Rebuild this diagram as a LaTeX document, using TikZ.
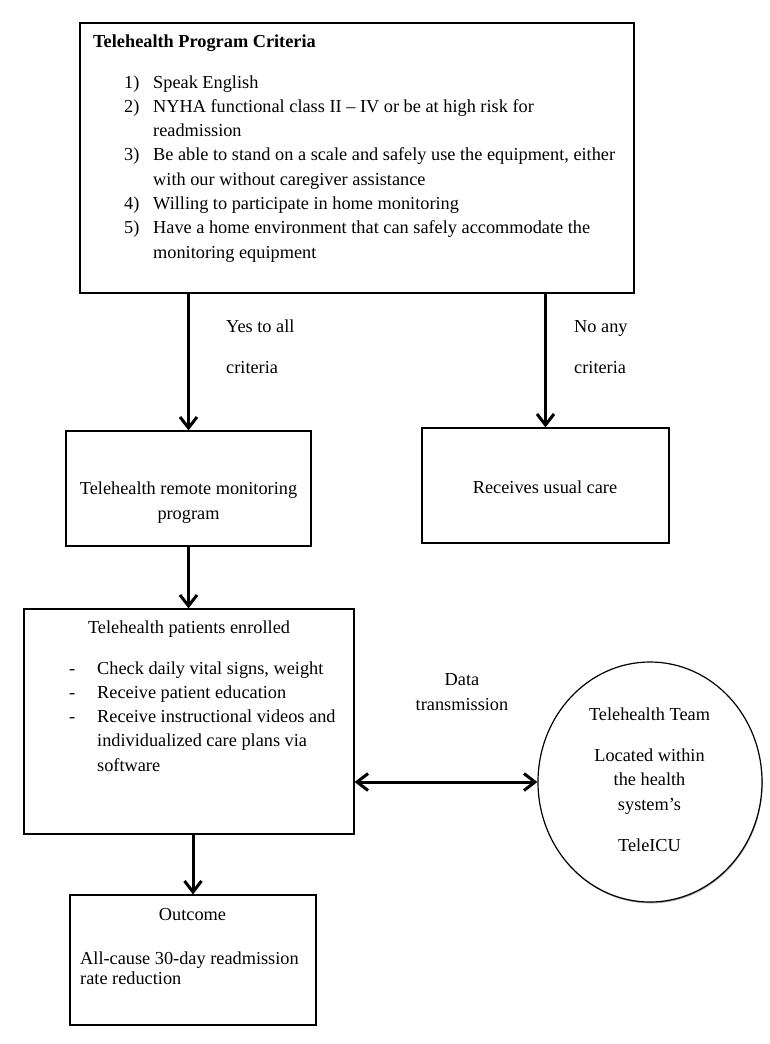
\documentclass[tikz,border=0pt]{standalone}
\usepackage{fontspec}
\setmainfont{Liberation Serif}
\usetikzlibrary{arrows.meta,shadows,shapes.geometric}
\begin{document}
\begin{tikzpicture}[x=1pt,y=-1pt,
  box/.style={draw, line width=1.2pt, fill=white, inner sep=0pt,
    drop shadow={shadow xshift=0.6pt, shadow yshift=-1.4pt, opacity=0.35, fill=black}},
  txt/.style={inner sep=0pt, font=\fontsize{18.3}{24.3}\selectfont},
  arr/.style={line width=3pt, -{Straight Barb[length=11pt 0,width=17pt 0]}},
  dblarr/.style={line width=3pt, {Straight Barb[length=11pt 0,width=17pt 0]}-{Straight Barb[length=11pt 0,width=17pt 0]}}
]
\useasboundingbox[fill=white] (0,0) rectangle (769,1044);

% boxes
\node[box, minimum width=554pt, minimum height=270pt] (crit) at (357,158) {};
\node[box, minimum width=245pt, minimum height=115pt] (remote) at (188.5,488.5) {};
\node[box, minimum width=247pt, minimum height=115pt] (usual) at (545.5,485.5) {};
\node[box, minimum width=330pt, minimum height=225pt] (enrol) at (189,721.5) {};
\node[box, minimum width=246pt, minimum height=130pt] (outcome) at (193,960) {};
\node[box, ellipse, minimum width=224pt, minimum height=240pt] (team) at (650,782) {};

% texts (anchor base = baseline of the last line)
\node[txt, anchor=base west, font=\bfseries\fontsize{18.3}{24.3}\selectfont] (crittitle) at (93,47) {Telehealth Program Criteria};
\node[txt, anchor=base west, align=left] (critlist) at (124,258.1) {%
\makebox[29pt][l]{1)}Speak English\\
\makebox[29pt][l]{2)}NYHA functional class II – IV or be at high risk for\\
\hspace*{29pt}readmission\\
\makebox[29pt][l]{3)}Be able to stand on a scale and safely use the equipment, either\\
\hspace*{29pt}with our without caregiver assistance\\
\makebox[29pt][l]{4)}Willing to participate in home monitoring\\
\makebox[29pt][l]{5)}Have a home environment that can safely accommodate the\\
\hspace*{29pt}monitoring equipment};

\node[txt, anchor=base west, align=left, font=\fontsize{18.3}{41}\selectfont] (yeslbl) at (226,373) {Yes to all\\criteria};
\node[txt, anchor=base west, align=left, font=\fontsize{18.3}{41}\selectfont] (nolbl) at (574,373) {No any\\criteria};

\node[txt, anchor=base, align=center] (remotetxt) at (188.5,519) {Telehealth remote monitoring\\program};
\node[txt, anchor=base] (usualtxt) at (545,493) {Receives usual care};

\node[txt, anchor=base] (enroltitle) at (189,633) {Telehealth patients enrolled};
\node[txt, anchor=base west, align=left] (enrollist) at (69,771.2) {%
\makebox[28pt][l]{-}Check daily vital signs, weight\\
\makebox[28pt][l]{-}Receive patient education\\
\makebox[28pt][l]{-}Receive instructional videos and\\
\hspace*{28pt}individualized care plans via\\
\hspace*{28pt}software};

\node[txt, anchor=base, align=center] (datalbl) at (462,710) {Data\\transmission};

\node[txt, anchor=base] (teamtitle) at (649.5,720) {Telehealth Team};
\node[txt, anchor=base, align=center] (teamloc) at (649.5,810) {Located within\\the health\\system’s};
\node[txt, anchor=base] (teamicu) at (649.5,851) {TeleICU};

\node[txt, anchor=base] (outtitle) at (192.5,920) {Outcome};
\node[txt, anchor=base west, align=left, font=\fontsize{18.3}{20.6}\selectfont] (outtxt) at (80,984.6) {All-cause 30-day readmission\\rate reduction};

% connectors
\draw[arr] (crit.south -| remote.north) -- (remote.north);
\draw[arr] (crit.south -| usual.north) -- (usual.north);
\draw[arr] (remote.south) -- (remote.south |- enrol.north);
\draw[arr] (outcome.north |- enrol.south) -- (outcome.north);
\draw[dblarr] (team.west -| enrol.east) -- (team.west);
\end{tikzpicture}
\end{document}
